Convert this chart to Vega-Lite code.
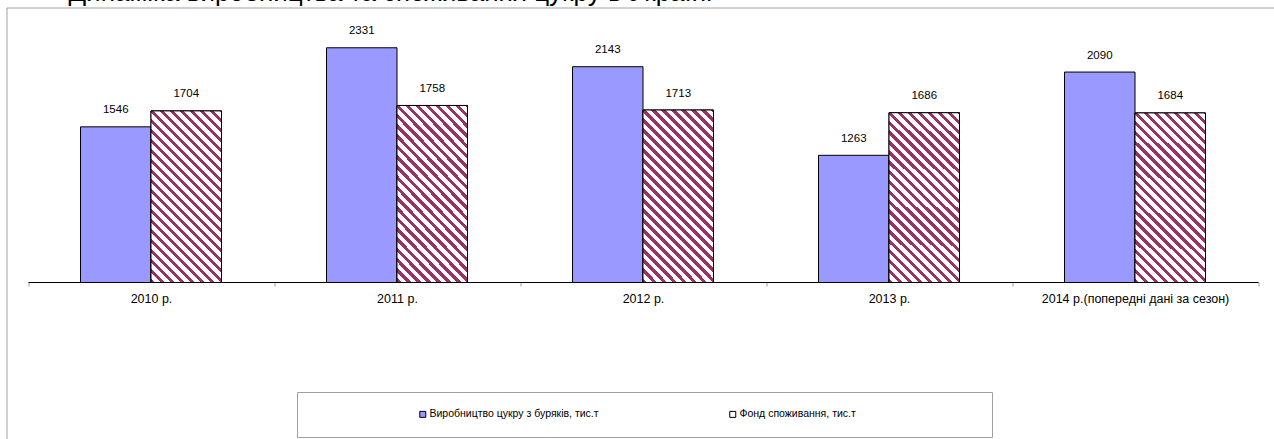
{
  "$schema": "https://vega.github.io/schema/vega-lite/v6.json",
  "width": 1267.5,
  "height": 431.5,
  "autosize": {"type": "none"},
  "padding": {"left": 6.5, "top": 7.5, "right": 0, "bottom": 0},
  "background": "white",
  "title": {
    "text": "Динаміка виробництва та споживання цукру в Україні",
    "anchor": "start",
    "frame": "group",
    "offset": 0,
    "baseline": "alphabetic",
    "dx": 62,
    "dy": 19.5,
    "fontSize": 26,
    "font": "Liberation Sans",
    "fontWeight": "normal",
    "color": "black"
  },
  "data": {
    "values": [
      {"year": "2010 р.", "series": "Виробництво цукру з буряків, тис.т", "value": 1546},
      {"year": "2010 р.", "series": "Фонд споживання, тис.т", "value": 1704},
      {"year": "2011 р.", "series": "Виробництво цукру з буряків, тис.т", "value": 2331},
      {"year": "2011 р.", "series": "Фонд споживання, тис.т", "value": 1758},
      {"year": "2012 р.", "series": "Виробництво цукру з буряків, тис.т", "value": 2143},
      {"year": "2012 р.", "series": "Фонд споживання, тис.т", "value": 1713},
      {"year": "2013 р.", "series": "Виробництво цукру з буряків, тис.т", "value": 1263},
      {"year": "2013 р.", "series": "Фонд споживання, тис.т", "value": 1686},
      {"year": "2014 р.(попередні дані за сезон)", "series": "Виробництво цукру з буряків, тис.т", "value": 2090},
      {"year": "2014 р.(попередні дані за сезон)", "series": "Фонд споживання, тис.т", "value": 1684}
    ]
  },
  "encoding": {
    "x": {
      "field": "year",
      "type": "nominal",
      "sort": null,
      "scale": {"range": [21.5, 1251.5], "paddingInner": 0, "paddingOuter": 0},
      "axis": {
        "title": null,
        "labelAngle": 0,
        "offset": -157,
        "tickBand": "extent",
        "domainColor": "black",
        "domainWidth": 1,
        "tickColor": "#999999",
        "tickSize": 4,
        "tickWidth": 1,
        "labelPadding": 6,
        "labelFont": "Liberation Sans",
        "labelFontSize": 12.5,
        "labelColor": "black",
        "labelLimit": 400,
        "labelOverlap": false,
        "grid": false
      }
    },
    "xOffset": {
      "field": "series",
      "type": "nominal",
      "sort": null,
      "scale": {
        "domain": ["Виробництво цукру з буряків, тис.т", "Фонд споживання, тис.т"],
        "paddingInner": 0,
        "paddingOuter": 0.7447
      }
    },
    "y": {
      "field": "value",
      "type": "quantitative",
      "scale": {"domain": [-1554, 2731], "nice": false, "zero": false},
      "axis": null
    }
  },
  "layer": [
    {
      "mark": {"type": "bar", "stroke": "black", "strokeWidth": 1},
      "encoding": {
        "y2": {"datum": 0},
        "fill": {
          "field": "series",
          "type": "nominal",
          "sort": null,
          "scale": {
            "domain": ["Виробництво цукру з буряків, тис.т", "Фонд споживання, тис.т"],
            "range": ["#9999FF", "#FFFFFF"]
          },
          "legend": {
            "orient": "none",
            "legendX": 290.5,
            "legendY": 384.5,
            "direction": "horizontal",
            "columns": 2,
            "title": " ",
            "titleOrient": "right",
            "titlePadding": 119,
            "titleFontSize": 11,
            "padding": 17,
            "fillColor": "white",
            "strokeColor": "#a0a0a0",
            "symbolType": "square",
            "symbolSize": 36,
            "symbolStrokeColor": "black",
            "symbolStrokeWidth": 1,
            "symbolOffset": 103.5,
            "labelOffset": 1.5,
            "labelFont": "Liberation Sans",
            "labelFontSize": 10.5,
            "labelColor": "black",
            "labelLimit": 400,
            "columnPadding": 25,
            "gridAlign": "all"
          }
        }
      }
    },
    {
      "transform": [{"filter": {"field": "series", "equal": "Фонд споживання, тис.т"}}],
      "mark": {
        "type": "bar",
        "stroke": "black",
        "strokeWidth": 1,
        "fill": {
          "gradient": "linear",
          "x1": 0, "y1": 1, "x2": 0.5101, "y2": -0.2444,
          "stops": [
            {"offset": 0, "color": "#993366"}, {"offset": 0.018, "color": "#993366"}, {"offset": 0.018, "color": "#FFFFFF"}, {"offset": 0.04, "color": "#FFFFFF"},
            {"offset": 0.04, "color": "#993366"}, {"offset": 0.058, "color": "#993366"}, {"offset": 0.058, "color": "#FFFFFF"}, {"offset": 0.08, "color": "#FFFFFF"},
            {"offset": 0.08, "color": "#993366"}, {"offset": 0.098, "color": "#993366"}, {"offset": 0.098, "color": "#FFFFFF"}, {"offset": 0.12, "color": "#FFFFFF"},
            {"offset": 0.12, "color": "#993366"}, {"offset": 0.138, "color": "#993366"}, {"offset": 0.138, "color": "#FFFFFF"}, {"offset": 0.16, "color": "#FFFFFF"},
            {"offset": 0.16, "color": "#993366"}, {"offset": 0.178, "color": "#993366"}, {"offset": 0.178, "color": "#FFFFFF"}, {"offset": 0.2, "color": "#FFFFFF"},
            {"offset": 0.2, "color": "#993366"}, {"offset": 0.218, "color": "#993366"}, {"offset": 0.218, "color": "#FFFFFF"}, {"offset": 0.24, "color": "#FFFFFF"},
            {"offset": 0.24, "color": "#993366"}, {"offset": 0.258, "color": "#993366"}, {"offset": 0.258, "color": "#FFFFFF"}, {"offset": 0.28, "color": "#FFFFFF"},
            {"offset": 0.28, "color": "#993366"}, {"offset": 0.298, "color": "#993366"}, {"offset": 0.298, "color": "#FFFFFF"}, {"offset": 0.32, "color": "#FFFFFF"},
            {"offset": 0.32, "color": "#993366"}, {"offset": 0.338, "color": "#993366"}, {"offset": 0.338, "color": "#FFFFFF"}, {"offset": 0.36, "color": "#FFFFFF"},
            {"offset": 0.36, "color": "#993366"}, {"offset": 0.378, "color": "#993366"}, {"offset": 0.378, "color": "#FFFFFF"}, {"offset": 0.4, "color": "#FFFFFF"},
            {"offset": 0.4, "color": "#993366"}, {"offset": 0.418, "color": "#993366"}, {"offset": 0.418, "color": "#FFFFFF"}, {"offset": 0.44, "color": "#FFFFFF"},
            {"offset": 0.44, "color": "#993366"}, {"offset": 0.458, "color": "#993366"}, {"offset": 0.458, "color": "#FFFFFF"}, {"offset": 0.48, "color": "#FFFFFF"},
            {"offset": 0.48, "color": "#993366"}, {"offset": 0.498, "color": "#993366"}, {"offset": 0.498, "color": "#FFFFFF"}, {"offset": 0.52, "color": "#FFFFFF"},
            {"offset": 0.52, "color": "#993366"}, {"offset": 0.538, "color": "#993366"}, {"offset": 0.538, "color": "#FFFFFF"}, {"offset": 0.56, "color": "#FFFFFF"},
            {"offset": 0.56, "color": "#993366"}, {"offset": 0.578, "color": "#993366"}, {"offset": 0.578, "color": "#FFFFFF"}, {"offset": 0.6, "color": "#FFFFFF"},
            {"offset": 0.6, "color": "#993366"}, {"offset": 0.618, "color": "#993366"}, {"offset": 0.618, "color": "#FFFFFF"}, {"offset": 0.64, "color": "#FFFFFF"},
            {"offset": 0.64, "color": "#993366"}, {"offset": 0.658, "color": "#993366"}, {"offset": 0.658, "color": "#FFFFFF"}, {"offset": 0.68, "color": "#FFFFFF"},
            {"offset": 0.68, "color": "#993366"}, {"offset": 0.698, "color": "#993366"}, {"offset": 0.698, "color": "#FFFFFF"}, {"offset": 0.72, "color": "#FFFFFF"},
            {"offset": 0.72, "color": "#993366"}, {"offset": 0.738, "color": "#993366"}, {"offset": 0.738, "color": "#FFFFFF"}, {"offset": 0.76, "color": "#FFFFFF"},
            {"offset": 0.76, "color": "#993366"}, {"offset": 0.778, "color": "#993366"}, {"offset": 0.778, "color": "#FFFFFF"}, {"offset": 0.8, "color": "#FFFFFF"},
            {"offset": 0.8, "color": "#993366"}, {"offset": 0.818, "color": "#993366"}, {"offset": 0.818, "color": "#FFFFFF"}, {"offset": 0.84, "color": "#FFFFFF"},
            {"offset": 0.84, "color": "#993366"}, {"offset": 0.858, "color": "#993366"}, {"offset": 0.858, "color": "#FFFFFF"}, {"offset": 0.88, "color": "#FFFFFF"},
            {"offset": 0.88, "color": "#993366"}, {"offset": 0.898, "color": "#993366"}, {"offset": 0.898, "color": "#FFFFFF"}, {"offset": 0.92, "color": "#FFFFFF"},
            {"offset": 0.92, "color": "#993366"}, {"offset": 0.938, "color": "#993366"}, {"offset": 0.938, "color": "#FFFFFF"}, {"offset": 0.96, "color": "#FFFFFF"},
            {"offset": 0.96, "color": "#993366"}, {"offset": 0.978, "color": "#993366"}, {"offset": 0.978, "color": "#FFFFFF"}, {"offset": 1, "color": "#FFFFFF"}
          ]
        }
      },
      "encoding": {"y2": {"datum": 0}}
    },
    {
      "mark": {
        "type": "text",
        "dy": -13.5,
        "baseline": "alphabetic",
        "align": "center",
        "fontSize": 11.5,
        "font": "Liberation Sans",
        "color": "black"
      },
      "encoding": {
        "text": {"field": "value", "type": "quantitative", "format": "d"}
      }
    }
  ],
  "config": {
    "view": {"stroke": "#a0a0a0", "strokeWidth": 1}
  }
}
